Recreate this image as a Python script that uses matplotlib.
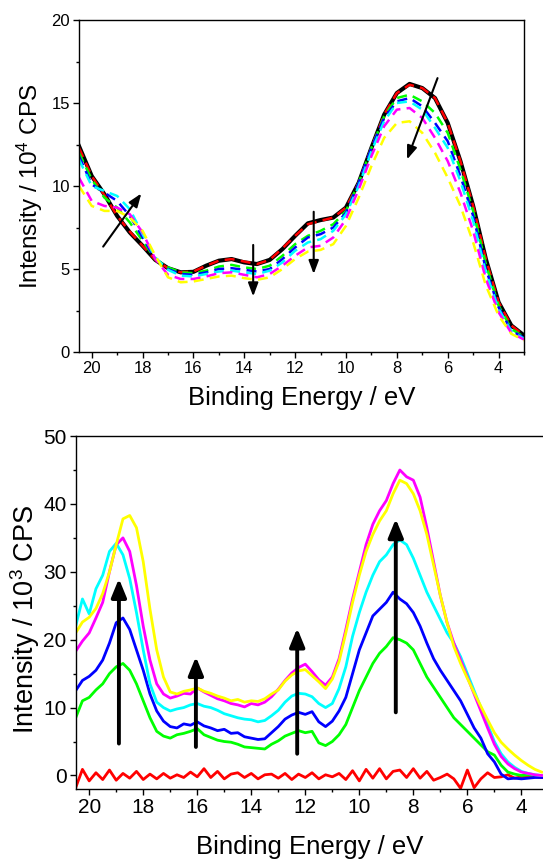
import numpy as np
import matplotlib
matplotlib.use('Agg')
import matplotlib.pyplot as plt
from matplotlib.ticker import MultipleLocator

plt.rcParams['font.family'] = ['Liberation Sans', 'DejaVu Sans']
plt.rcParams['mathtext.default'] = 'regular'

# ---- top panel: spectra on a 0.5 eV grid, 20.5 -> 3.0 eV (units of 1e4 CPS)
energy_top = np.arange(20.5, 2.9, -0.5)

top_black = [12.4, 10.6, 9.5, 8.2, 7.2, 6.4, 5.55, 5.05, 4.8, 4.83,
             5.2, 5.5, 5.6, 5.4, 5.3, 5.55, 6.2, 7.0, 7.75, 7.95,
             8.1, 8.7, 10.2, 12.3, 14.3, 15.6, 16.15, 15.9, 15.3, 13.8,
             11.5, 8.8, 5.6, 3.0, 1.6, 1.0]
top_red = [12.3, 10.6, 9.45, 8.2, 7.25, 6.4, 5.55, 5.05, 4.8, 4.85,
           5.2, 5.5, 5.6, 5.45, 5.3, 5.55, 6.25, 7.0, 7.7, 7.9,
           8.1, 8.7, 10.2, 12.3, 14.3, 15.6, 16.1, 15.9, 15.3, 13.8,
           11.5, 8.8, 5.6, 3.0, 1.6, 1.0]
top_green = [12.0, 10.4, 9.3, 8.7, 7.8, 6.7, 5.6, 5.1, 4.8, 4.75,
             4.9, 5.15, 5.25, 5.1, 5.0, 5.2, 5.8, 6.5, 7.0, 7.3,
             7.7, 8.5, 10.2, 12.3, 14.2, 15.3, 15.5, 15.1, 14.4, 13.2,
             11.0, 8.5, 5.3, 2.8, 1.4, 0.9]
top_blue = [11.8, 10.1, 9.6, 9.1, 8.2, 6.9, 5.6, 5.0, 4.7, 4.65,
            4.8, 5.0, 5.05, 4.95, 4.85, 5.0, 5.6, 6.3, 6.9, 7.1,
            7.5, 8.4, 10.2, 12.3, 14.1, 15.1, 15.3, 14.8, 13.8, 12.7,
            10.6, 8.2, 5.0, 2.7, 1.3, 0.85]
top_cyan = [11.6, 10.0, 9.7, 9.4, 8.6, 7.1, 5.7, 4.95, 4.6, 4.55,
            4.7, 4.85, 4.9, 4.8, 4.7, 4.9, 5.4, 6.1, 6.6, 6.8,
            7.3, 8.3, 10.0, 12.1, 13.9, 15.0, 15.1, 14.6, 13.5, 12.3,
            10.3, 7.9, 4.8, 2.6, 1.25, 0.8]
top_magenta = [10.5, 9.1, 8.8, 8.7, 8.3, 7.2, 5.6, 4.65, 4.4, 4.4,
               4.55, 4.75, 4.8, 4.65, 4.5, 4.7, 5.2, 5.8, 6.3, 6.4,
               6.9, 8.0, 9.8, 11.8, 13.6, 14.6, 14.7, 14.1, 12.9, 11.5,
               9.6, 7.3, 4.4, 2.4, 1.15, 0.75]
top_yellow = [10.0, 8.8, 8.5, 8.5, 8.1, 7.3, 5.8, 4.5, 4.2, 4.25,
              4.4, 4.55, 4.6, 4.45, 4.35, 4.5, 5.0, 5.6, 6.05, 6.15,
              6.5, 7.6, 9.3, 11.2, 12.9, 13.8, 13.9, 13.2, 12.0, 10.5,
              8.8, 6.6, 4.0, 2.2, 1.1, 0.7]

# arrows (tail x, tail y, head x, head y)
top_arrows = [(19.55, 6.35, 18.05, 9.55),
              (13.65, 6.45, 13.65, 3.35),
              (11.27, 8.45, 11.27, 4.7),
              (6.4, 16.5, 7.6, 11.6)]

# ---- bottom panel: difference spectra on a 0.25 eV grid, 20.5 -> 3.25 eV (1e3 CPS)
energy_bot = np.arange(20.5, 3.2, -0.25)

bot_yellow = [21.0, 22.6, 23.3, 24.6, 26.8, 30.0, 34.0, 37.8, 38.3, 36.5,
              31.5, 24.5, 18.5, 14.5, 12.3, 12.0, 12.4, 12.6, 12.9, 12.4,
              12.1, 11.7, 11.4, 11.0, 11.2, 10.8, 11.0, 10.9, 11.3, 12.0,
              12.6, 13.9, 14.8, 15.4, 15.6, 14.7, 13.8, 12.8, 14.2, 16.8,
              21.0, 25.5, 29.5, 33.0, 35.5, 37.5, 39.0, 41.5, 43.5, 43.0,
              41.5, 39.0, 35.5, 31.0, 26.5, 22.5, 19.0, 16.5, 14.3, 12.2,
              10.2, 8.2, 6.3, 4.9, 3.9, 3.0, 2.2, 1.5, 0.9, 0.5]
bot_magenta = [18.3, 19.8, 21.0, 23.2, 25.5, 30.0, 34.0, 35.0, 33.0, 28.0,
               22.0, 17.0, 13.5, 12.0, 11.4, 11.7, 12.1, 12.0, 12.9, 12.3,
               11.8, 11.3, 11.0, 10.6, 10.4, 10.1, 10.6, 10.4, 10.8, 11.6,
               12.7, 14.0, 15.1, 15.9, 16.4, 15.3, 14.1, 13.3, 14.5, 17.2,
               21.5, 26.0, 30.0, 34.0, 37.0, 39.0, 40.5, 43.0, 45.0, 44.0,
               43.5, 41.0, 36.5, 31.5, 26.5, 22.5, 19.5, 17.0, 14.5, 12.0,
               9.5, 7.0, 4.6, 2.8, 1.7, 1.0, 0.5, 0.3, 0.1, 0.0]
bot_cyan = [22.0, 26.0, 23.8, 27.5, 29.5, 33.0, 34.2, 32.5, 29.0, 24.0,
            18.5, 13.5, 10.8, 10.0, 9.5, 9.8, 10.0, 10.4, 10.6, 10.2,
            10.0, 9.6, 9.1, 8.8, 8.5, 8.3, 8.2, 7.9, 8.1, 8.8,
            9.6, 10.8, 11.7, 12.1, 12.0, 11.6, 10.6, 10.0, 10.6, 12.8,
            16.0, 20.5, 24.0, 27.0, 29.5, 31.5, 32.5, 34.0, 34.7, 34.0,
            32.0, 29.5, 27.0, 25.0, 23.0, 21.0, 19.5, 17.5, 15.0, 12.5,
            10.0, 7.5, 5.0, 3.2, 2.0, 1.2, 0.6, 0.3, 0.1, 0.0]
bot_blue = [12.5, 14.0, 14.6, 15.5, 17.0, 19.5, 22.5, 23.2, 21.5, 18.5,
            15.5, 12.0, 9.5, 8.0, 7.2, 7.0, 7.6, 7.4, 7.9, 7.3,
            7.0, 6.6, 6.8, 6.2, 6.3, 5.7, 5.5, 5.3, 5.4, 6.3,
            7.2, 8.3, 8.9, 9.3, 9.0, 9.4, 7.9, 7.2, 8.0, 9.5,
            11.5, 15.0, 18.5, 21.0, 23.5, 24.5, 25.5, 27.0, 26.0, 25.3,
            24.0, 22.0, 19.5, 17.2, 15.5, 14.0, 12.5, 11.0, 9.0, 7.0,
            5.5, 3.2, 2.0, 0.2, -0.5, -0.4, -0.5, -0.4, -0.3, -0.3]
bot_green = [8.5, 11.0, 11.5, 12.6, 13.5, 15.0, 16.0, 16.5, 15.5, 13.5,
             11.0, 8.5, 6.5, 5.8, 5.5, 6.0, 6.2, 6.5, 6.9, 6.0,
             5.6, 5.2, 5.0, 4.9, 4.6, 4.2, 4.1, 4.0, 3.9, 4.6,
             5.1, 5.8, 6.2, 6.6, 6.3, 6.5, 4.8, 4.4, 5.0, 6.0,
             7.5, 10.0, 12.5, 14.5, 16.5, 18.0, 19.0, 20.3, 20.0, 19.5,
             18.5, 16.5, 14.5, 13.0, 11.5, 10.0, 8.5, 7.5, 6.5, 5.5,
             4.5, 3.5, 3.0, 1.5, 0.5, 0.2, 0.0, 0.1, 0.0, -0.1]
bot_red = [-1.8, 0.9, -0.8, 0.4, -0.6, 0.8, -0.7, 0.3, -0.4, 0.6,
           -0.6, 0.2, -0.5, 0.3, -0.4, 0.1, -0.3, 0.5, -0.2, 1.0,
           -0.3, 0.6, -0.5, 0.2, 0.4, -0.3, 0.3, -0.5, 0.1, 0.2,
           -0.4, 0.3, -0.6, 0.2, -0.3, 0.4, -0.5, 0.1, -0.2, 0.3,
           -0.6, 0.7, -0.8, 0.9, -0.4, 1.0, -0.5, 0.6, 0.8, -0.3,
           1.0, -0.4, 0.6, -0.7, -0.3, 0.2, -0.5, -1.9, 0.8, -1.8,
           -0.5, 0.4, -0.3, -0.2, 0.1, -0.4, -0.2, -0.3, -0.2, -0.3]

bot_arrows = [(18.9, 4.7, 18.9, 29.0),
              (16.05, 4.2, 16.05, 17.5),
              (12.3, 3.2, 12.3, 21.7),
              (8.65, 9.3, 8.65, 37.8)]


# common axis styling for both panels
def style_axis(ax, tick_size, label_size):
    ax.tick_params(which='both', direction='out', top=False, right=False,
                   labelsize=tick_size, width=1.0)
    ax.tick_params(which='major', length=4.5, pad=2)
    ax.tick_params(which='minor', length=2.5)
    ax.xaxis.set_major_locator(MultipleLocator(2))
    ax.xaxis.set_minor_locator(MultipleLocator(1))
    for sp in ax.spines.values():
        sp.set_linewidth(1.0)
    ax.set_xlabel('Binding Energy / eV', fontsize=label_size)


def draw_arrows(ax, arrows, lw, head):
    for x0, y0, x1, y1 in arrows:
        ax.annotate('', xy=(x1, y1), xytext=(x0, y0),
                    arrowprops=dict(arrowstyle=head, color='black', lw=lw,
                                    shrinkA=0, shrinkB=0))


def plot_top(ax):
    ax.plot(energy_top, top_black, color='black', lw=3.0)
    ax.plot(energy_top, top_red, color='red', lw=1.8, dashes=(4, 2.5))
    for vals, c in [(top_green, '#00FF00'), (top_blue, '#0000FF'),
                    (top_cyan, '#00FFFF'), (top_magenta, '#FF00FF'),
                    (top_yellow, '#FFFF00')]:
        ax.plot(energy_top, vals, color=c, lw=1.8, dashes=(4, 2.5))
    draw_arrows(ax, top_arrows, 1.5, '-|>,head_length=0.8,head_width=0.3')

    ax.set_xlim(20.5, 3.0)
    ax.set_ylim(0, 20)
    ax.yaxis.set_major_locator(MultipleLocator(5))
    ax.yaxis.set_minor_locator(MultipleLocator(2.5))
    style_axis(ax, 12, 18.5)
    ax.set_ylabel('Intensity / 10$^4$ CPS', fontsize=17.5)
    ax.xaxis.set_label_coords(0.5, -0.103)
    ax.yaxis.set_label_coords(-0.076, 0.5)


def plot_bottom(ax):
    for vals, c in [(bot_red, '#FF0000'), (bot_green, '#00FF00'),
                    (bot_blue, '#0000FF'), (bot_cyan, '#00FFFF'),
                    (bot_magenta, '#FF00FF'), (bot_yellow, '#FFFF00')]:
        ax.plot(energy_bot, vals, color=c, lw=2.0)
    draw_arrows(ax, bot_arrows, 2.8, '-|>,head_length=1.1,head_width=0.45')

    ax.set_xlim(20.5, 3.2)
    ax.set_ylim(-2, 50)
    ax.yaxis.set_major_locator(MultipleLocator(10))
    ax.yaxis.set_minor_locator(MultipleLocator(5))
    style_axis(ax, 15, 18.5)
    ax.spines['right'].set_visible(False)
    ax.set_ylabel('Intensity / 10$^3$ CPS', fontsize=19.5)
    ax.xaxis.set_label_coords(0.5, -0.13)
    ax.yaxis.set_label_coords(-0.073, 0.48)


def main():
    fig = plt.figure(figsize=(5.43, 8.63), dpi=100)
    ax_top = fig.add_axes([0.1455, 0.5921, 0.8195, 0.3847])
    ax_bot = fig.add_axes([0.1394, 0.0857, 0.8606, 0.4090])
    plot_top(ax_top)
    plot_bottom(ax_bot)
    fig.savefig('out.png', dpi=100)


if __name__ == "__main__":
    main()
